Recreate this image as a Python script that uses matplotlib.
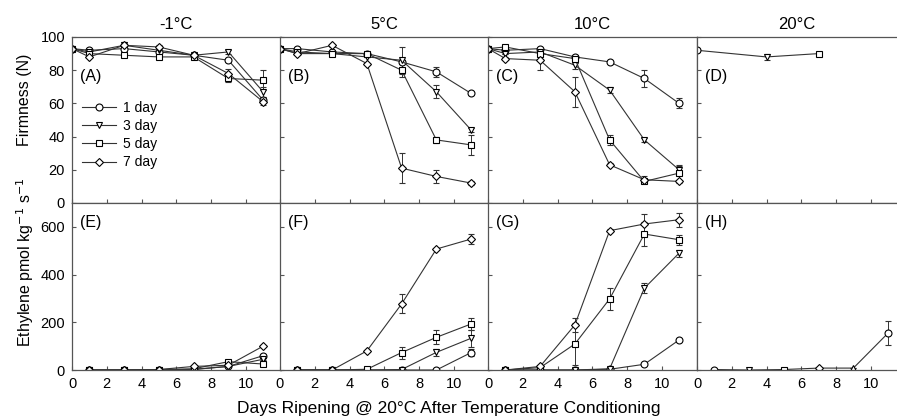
import numpy as np
import matplotlib
matplotlib.use("Agg")
import matplotlib.pyplot as plt

plt.rcParams['font.family'] = ['Liberation Sans', 'DejaVu Sans']
plt.rcParams['font.size'] = 10

temps = ['-1°C', '5°C', '10°C', '20°C']
series_names = ['1 day', '3 day', '5 day', '7 day']
series_markers = ['o', 'v', 's', 'D']

firm_days = [0, 1, 3, 5, 7, 9, 11]
eth_days = [1, 3, 5, 7, 9, 11]

# firmness (N), one row per conditioning time
firm_m1 = [[93, 92, 93, 91, 89, 86, 62],
           [93, 91, 95, 92, 89, 91, 67],
           [93, 90, 89, 88, 88, 75, 74],
           [93, 88, 95, 94, 89, 78, 61]]
firm_m1_err = [[0, 0, 0, 0, 0, 1, 2],
               [0, 0, 1, 0, 0, 1, 3],
               [0, 0, 0, 0, 0, 2, 6],
               [0, 0, 2, 1, 0, 3, 2]]
firm_5 = [[93, 93, 91, 90, 85, 79, 66],
          [93, 90, 90, 88, 86, 67, 44],
          [93, 91, 90, 90, 80, 38, 35],
          [93, 90, 95, 84, 21, 16, 12]]
firm_5_err = [[0, 0, 0, 0, 1, 3, 1],
              [0, 0, 0, 0, 8, 4, 1],
              [0, 0, 0, 1, 4, 2, 6],
              [0, 0, 1, 0, 9, 4, 1]]
firm_10 = [[93, 92, 93, 88, 85, 75, 60],
           [93, 90, 91, 83, 68, 38, 20],
           [93, 94, 90, 87, 38, 13, 18],
           [93, 87, 86, 67, 23, 14, 13]]
firm_10_err = [[0, 0, 0, 0, 0, 5, 3],
               [0, 0, 0, 2, 2, 1, 2],
               [0, 0, 0, 2, 3, 1, 5],
               [0, 1, 6, 9, 1, 2, 1]]
firm_20_days = [0, 4, 7]
firm_20 = [92, 88, 90]
firm_20_err = [1, 2, 1]
firm_20_markers = ['o', 'v', 's']

# ethylene (pmol kg-1 s-1)
eth_m1 = [[0, 0, 0, 3, 15, 60],
          [0, 0, 0, 2, 15, 45],
          [0, 0, 2, 5, 35, 25],
          [0, 0, 2, 15, 20, 100]]
eth_m1_err = [[0, 0, 0, 0, 3, 5],
              [0, 0, 0, 0, 3, 5],
              [0, 0, 0, 2, 8, 5],
              [0, 0, 0, 3, 5, 5]]
eth_5 = [[0, 0, 0, 0, 0, 73],
         [0, 0, 0, 2, 74, 133],
         [0, 0, 3, 73, 137, 193],
         [0, 0, 80, 277, 507, 549]]
eth_5_err = [[0, 0, 0, 0, 0, 15],
             [0, 0, 0, 0, 15, 35],
             [0, 0, 0, 25, 30, 25],
             [0, 0, 5, 40, 5, 20]]
eth_10 = [[0, 0, 0, 3, 24, 126],
          [0, 0, 0, 5, 343, 490],
          [0, 10, 109, 298, 570, 546],
          [0, 15, 189, 584, 612, 630]]
eth_10_err = [[0, 0, 0, 0, 0, 5],
              [0, 0, 0, 0, 20, 15],
              [0, 0, 90, 45, 50, 20],
              [0, 0, 30, 5, 40, 30]]
eth_20 = [2, 0, 2, 8, 8, 155]
eth_20_err = [0, 0, 0, 0, 0, 50]
eth_20_markers = ['o', 'v', 's', 'D', '^', 'o']

line_col = '#333333'
W, H = 897, 419
fig = plt.figure(figsize=(W / 100, H / 100), dpi=100)

lefts = [72, 280, 488, 697]
pw = 208.5
top_px, mid_px, bot_px = 37, 203, 370


def make_ax(i, row):
    l = lefts[i]
    w = pw if i < 3 else W - l
    if row == 0:
        rect = [l / W, 1 - mid_px / H, w / W, (mid_px - top_px) / H]
    else:
        rect = [l / W, 1 - bot_px / H, w / W, (bot_px - mid_px) / H]
    ax = fig.add_axes(rect)
    for s in ax.spines.values():
        s.set_color('#555555')
        s.set_linewidth(0.9)
    if i == 3:
        ax.spines['right'].set_visible(False)
    ax.tick_params(direction='in', length=3, width=0.8, color='#555555',
                   labelsize=10.5, pad=5)
    ax.set_xlim(0, 12 if i < 3 else (W - l) / (pw / 12))
    ax.set_xticks([0, 2, 4, 6, 8, 10])
    return ax


def draw(ax, x, y, err, marker):
    ax.errorbar(x, y, yerr=err, color=line_col, lw=0.8, marker=marker,
                ms=5 if marker != 'D' else 4.2, mfc='white', mec='black',
                mew=0.8, ecolor=line_col, elinewidth=0.7, capsize=2, capthick=0.7)


firm_sets = [(firm_m1, firm_m1_err), (firm_5, firm_5_err), (firm_10, firm_10_err)]
eth_sets = [(eth_m1, eth_m1_err), (eth_5, eth_5_err), (eth_10, eth_10_err)]
top_letters = ['(A)', '(B)', '(C)', '(D)']
bot_letters = ['(E)', '(F)', '(G)', '(H)']

for i in range(4):
    ax = make_ax(i, 0)
    ax.set_ylim(0, 100)
    ax.set_yticks([0, 20, 40, 60, 80, 100])
    ax.tick_params(labelbottom=False)
    if i > 0:
        ax.tick_params(labelleft=False)
    ax.set_title(temps[i], fontsize=12, pad=6)
    if i < 3:
        vals, errs = firm_sets[i]
        for k in range(4):
            draw(ax, firm_days, vals[k], errs[k], series_markers[k])
    else:
        ax.plot(firm_20_days, firm_20, color=line_col, lw=0.8)
        for xd, yd, ed, mk in zip(firm_20_days, firm_20, firm_20_err, firm_20_markers):
            draw(ax, [xd], [yd], [ed], mk)
    ax.text(0.04, 0.76, top_letters[i], transform=ax.transAxes, fontsize=11.5,
            ha='left', va='center')
    if i == 0:
        handles = [plt.Line2D([], [], color=line_col, lw=0.8, marker=m,
                              ms=5 if m != 'D' else 4.2, mfc='white', mec='black',
                              mew=0.8) for m in series_markers]
        ax.legend(handles, series_names, loc='upper left',
                  bbox_to_anchor=(0.05, 0.615), frameon=False, fontsize=10,
                  handlelength=2.4, handletextpad=0.5, labelspacing=0.3,
                  borderpad=0, borderaxespad=0)

    ax = make_ax(i, 1)
    ax.set_ylim(0, 700)
    ax.set_yticks([0, 200, 400, 600])
    if i > 0:
        ax.tick_params(labelleft=False)
    if i < 3:
        vals, errs = eth_sets[i]
        for k in range(4):
            draw(ax, eth_days, vals[k], errs[k], series_markers[k])
    else:
        ax.plot(eth_days, eth_20, color=line_col, lw=0.8)
        for xd, yd, ed, mk in zip(eth_days, eth_20, eth_20_err, eth_20_markers):
            draw(ax, [xd], [yd], [ed], mk)
    ax.text(0.04, 0.885, bot_letters[i], transform=ax.transAxes, fontsize=11.5,
            ha='left', va='center')

fig.text(25 / W, 1 - 100 / H, 'Firmness (N)', rotation=90, ha='center',
         va='center', fontsize=11.5)
fig.text(25 / W, 1 - 262 / H, 'Ethylene pmol kg$^{-1}$ s$^{-1}$', rotation=90,
         ha='center', va='center', fontsize=11.5)
fig.text(0.5, 1 - 408 / H, 'Days Ripening @ 20°C After Temperature Conditioning',
         ha='center', va='center', fontsize=12.5)

fig.savefig('out.png', dpi=100)
